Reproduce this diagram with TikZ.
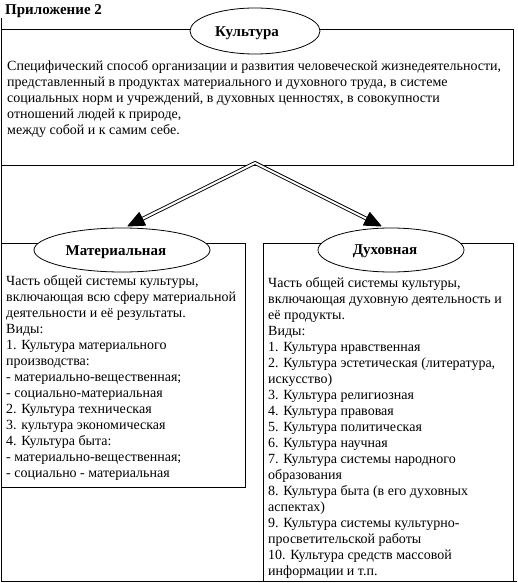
\documentclass[tikz,border=0pt]{standalone}
\usepackage{fontspec}
\setmainfont{Liberation Serif}
\usetikzlibrary{calc,shapes.geometric}
\begin{document}
\begin{tikzpicture}[x=1pt,y=-1pt,
  frame/.style={draw=black,line width=1pt},
  box/.style={draw=black,line width=1pt,anchor=north west,inner sep=0pt},
  oval/.style={ellipse,draw=black,line width=0.8pt,fill=white,inner sep=0pt},
  head/.style={font=\bfseries\fontsize{15}{16}\selectfont,inner sep=0pt},
  body/.style={font=\fontsize{14}{16}\selectfont,align=left,anchor=north west,inner sep=0pt},
  link/.style={draw=black,double=white,double distance=2pt,line width=0.9pt},
  tiphead/.style={fill=black,draw=black,line width=1pt,line join=round}
]
\useasboundingbox (0,0) rectangle (517,583);
% outer frame
\draw[frame] (1,18) -- (1,581.5) -- (517,581.5);
% title
\node[head,anchor=west] (title) at (5,11) {Приложение 2};
% boxes
\node[box,minimum width=512pt,minimum height=136pt] (topbox) at (1,29) {};
\node[box,minimum width=244pt,minimum height=244pt] (leftbox) at (1,243) {};
\node[box,minimum width=250pt,minimum height=338pt] (rightbox) at (263,243) {};
% ellipses
\node[oval,minimum width=130pt,minimum height=46pt] (kult) at (255,31) {};
\node[head] (kultt) at (247,33) {Культура};
\node[oval,minimum width=176pt,minimum height=44pt] (mat) at (122,250) {};
\node[head] (matt) at (116,252) {Материальная};
\node[oval,minimum width=146pt,minimum height=44pt] (dukh) at (391,250) {};
\node[head] (dukht) at (385,251) {Духовная};
% texts
\node[body] (toptext) at (7,60) {Специфический способ организации и развития человеческой жизнедеятельности,\\
представленный в продуктах материального и духовного труда, в системе\\
социальных норм и учреждений, в духовных ценностях, в совокупности\\
отношений людей к природе,\\
между собой и к самим себе.};
\node[body] (lefttext) at (6,275) {Часть общей системы культуры,\\
включающая всю сферу материальной\\
деятельности и её результаты.\\
Виды:\\
1. Культура материального\\
производства:\\
- материально-вещественная;\\
- социально-материальная\\
2. Культура техническая\\
3. культура экономическая\\
4. Культура быта:\\
- материально-вещественная;\\
- социально - материальная};
\node[body] (righttext) at (268,277) {Часть общей системы культуры,\\
включающая духовную деятельность и\\
её продукты.\\
Виды:\\
1. Культура нравственная\\
2. Культура эстетическая (литература,\\
искусство)\\
3. Культура религиозная\\
4. Культура правовая\\
5. Культура политическая\\
6. Культура научная\\
7. Культура системы народного\\
образования\\
8. Культура быта (в его духовных\\
аспектах)\\
9. Культура системы культурно-\\
просветительской работы\\
10. Культура средств массовой\\
информации и т.п.};
% connectors
\coordinate (apex) at (255,163);
\coordinate (tipL) at (128,226);
\coordinate (tipR) at (381,226);
\coordinate (hL) at ($(tipL)!15pt!(apex)$);
\coordinate (hR) at ($(tipR)!15pt!(apex)$);
\coordinate (bL) at ($(tipL)!16pt!(apex)$);
\coordinate (bR) at ($(tipR)!16pt!(apex)$);
\draw[link] (hL) -- (apex) -- (hR);
\draw[tiphead] ($(bL)!7pt!90:(tipL)$) -- (tipL) -- ($(bL)!7pt!-90:(tipL)$) -- cycle;
\draw[tiphead] ($(bR)!7pt!90:(tipR)$) -- (tipR) -- ($(bR)!7pt!-90:(tipR)$) -- cycle;
\end{tikzpicture}
\end{document}
